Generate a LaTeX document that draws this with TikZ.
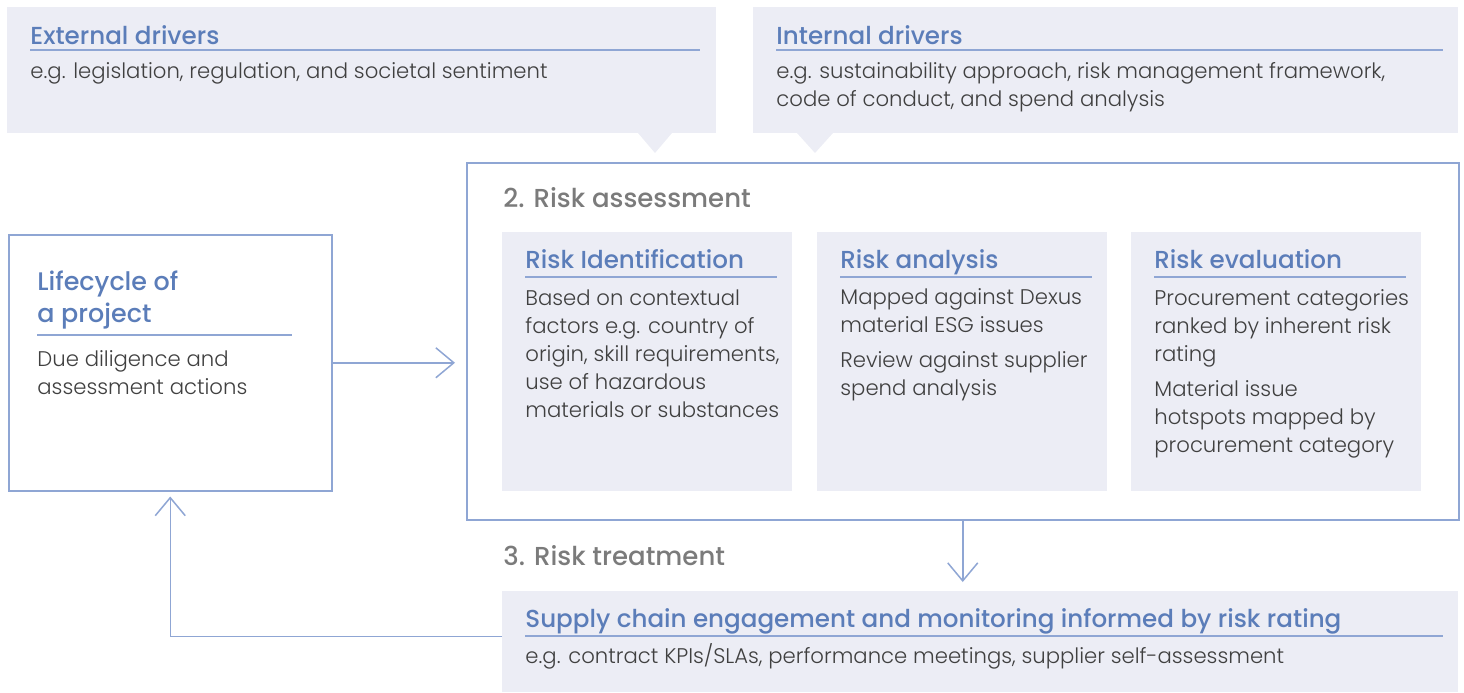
\documentclass[tikz,border=0pt]{standalone}
\usepackage{fontspec}
\setmainfont{Poppins}[UprightFont=* Light, BoldFont=* Medium]
\usepackage{tikz}
\usetikzlibrary{positioning, calc, arrows.meta}

\definecolor{lineblue}{HTML}{8FA6D4}
\definecolor{titleblue}{HTML}{5B7DB9}
\definecolor{panelfill}{HTML}{ECEDF5}
\definecolor{stagegray}{HTML}{7B7B7B}
\definecolor{bodygray}{HTML}{404040}

\begin{document}
\begin{tikzpicture}[
    x=0.5pt, y=-0.5pt,
    panel/.style={rectangle, fill=panelfill, anchor=north west, inner sep=0pt},
    frame/.style={rectangle, draw=lineblue, line width=0.75pt, fill=white, anchor=north west, inner sep=0pt},
    heading/.style={anchor=base west, inner sep=0pt, text=titleblue, align=left, font=\fontsize{12.3}{16}\selectfont\bfseries},
    body/.style={anchor=base west, inner sep=0pt, text=bodygray, align=left, font=\fontsize{10.6}{14}\selectfont},
    stage/.style={anchor=base west, inner sep=0pt, text=stagegray, font=\fontsize{13}{16}\selectfont\bfseries},
    rule/.style={draw=lineblue, line width=0.75pt},
    flow/.style={draw=lineblue, line width=0.75pt, -{Straight Barb[length=9pt, width=15pt]}}
]
    \useasboundingbox (0,0) rectangle (1464,692);

    % Drivers
    \node[panel, minimum width=354.5pt, minimum height=63pt] (ext) at (7,7) {};
    \node[panel, minimum width=352.5pt, minimum height=63pt] (int) at (753,7) {};
    \fill[panelfill] (638,133) -- (655,153) -- (672,133) -- cycle;
    \fill[panelfill] (797,133) -- (815,153) -- (833,133) -- cycle;

    % Frames
    \node[frame, minimum width=496pt, minimum height=178.5pt] (assess) at (466,162) {};
    \node[frame, minimum width=161.5pt, minimum height=128pt] (life) at (8,234) {};

    % Panels for the assessment steps
    \node[panel, minimum width=145pt, minimum height=129.5pt] (ident) at (502,232) {};
    \node[panel, minimum width=145pt, minimum height=129.5pt] (analysis) at (817,232) {};
    \node[panel, minimum width=145pt, minimum height=129.5pt] (evaluation) at (1131,232) {};
    \node[panel, minimum width=478pt, minimum height=50.5pt] (supply) at (502,591) {};

    % Texts (multi-line nodes sit on their last baseline)
    \node[heading] (exttitle) at (30,44) {External drivers};
    \node[body] (extbody) at (30,78) {e.g. legislation, regulation, and societal sentiment};
    \node[heading] (inttitle) at (776,44) {Internal drivers};
    \node[body] (intbody) at (776,106) {e.g. sustainability approach, risk management framework,\\code of conduct, and spend analysis};

    \node[stage] (stagetwo) at (503,207) {2. Risk assessment};
    \node[heading] (identtitle) at (525,268) {Risk Identification};
    \node[body] (identbody) at (525,417) {Based on contextual\\factors e.g. country of\\origin, skill requirements,\\use of hazardous\\materials or substances};
    \node[heading] (analysistitle) at (840,268) {Risk analysis};
    \node[body] (analysisbody) at (840,395) {Mapped against Dexus\\material ESG issues\\[3.5pt]Review against supplier\\spend analysis};
    \node[heading] (evaluationtitle) at (1154,268) {Risk evaluation};
    \node[body] (evaluationbody) at (1154,452) {Procurement categories\\ranked by inherent risk\\rating\\[3.5pt]Material issue\\hotspots mapped by\\procurement category};

    \node[heading, font=\fontsize{12.7}{16}\selectfont\bfseries] (lifetitle) at (37,322) {Lifecycle of\\a project};
    \node[body] (lifebody) at (37,394) {Due diligence and\\assessment actions};

    \node[stage] (stagethree) at (503,565) {3. Risk treatment};
    \node[heading] (supplytitle) at (525,627) {Supply chain engagement and monitoring informed by risk rating};
    \node[body] (supplybody) at (525,663) {e.g. contract KPIs/SLAs, performance meetings, supplier self-assessment};

    % Underlines
    \draw[rule] ($(exttitle.base west)+(0,6)$) -- ++(670,0);
    \draw[rule] ($(inttitle.base west)+(0,6)$) -- ++(667,0);
    \draw[rule] ($(identtitle.base west)+(0,9)$) -- ++(252,0);
    \draw[rule] ($(analysistitle.base west)+(0,9)$) -- ++(252,0);
    \draw[rule] ($(evaluationtitle.base west)+(0,9)$) -- ++(252,0);
    \draw[rule] ($(lifetitle.base west)+(0,13)$) -- ++(255,0);
    \draw[rule] ($(supplytitle.base west)+(0,9)$) -- ++(918,0);

    % Arrows
    \draw[flow, shorten >=5.5pt] (life) -- (assess.west |- life);
    \draw[flow, shorten >=4.5pt] (assess.south) -- (supply.north -| assess.south);
    \draw[flow, shorten >=2.5pt] ([yshift=2.75pt]supply.west) -| (life.south);

\end{tikzpicture}
\end{document}
